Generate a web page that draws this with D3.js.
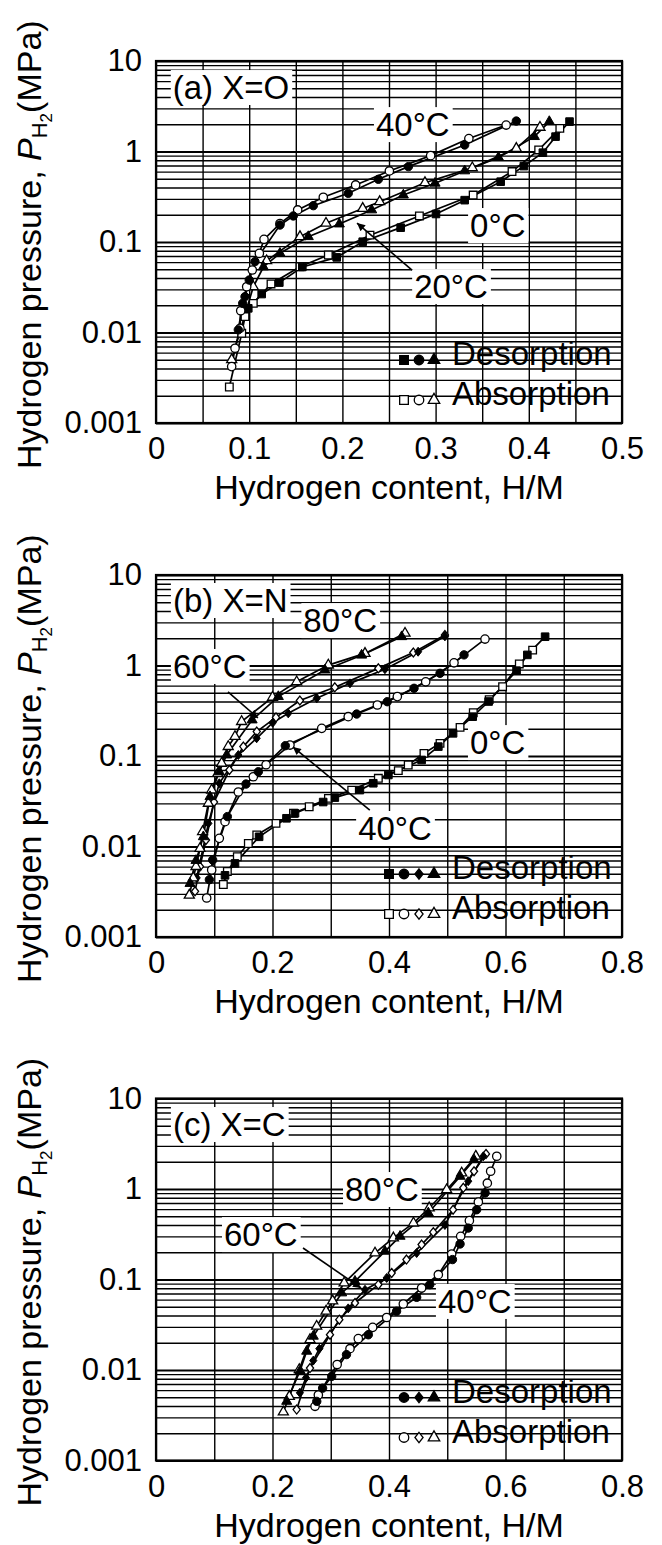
<!DOCTYPE html>
<html>
<head>
<meta charset="utf-8">
<script src="https://cdn.jsdelivr.net/npm/d3@7"></script>
<style>
  body { margin: 0; background: #fff; }
  svg text { font-family: "Liberation Sans", Arial, Helvetica, sans-serif; fill: #000; white-space: pre; }
</style>
</head>
<body>
<svg id="chart" width="662" height="1545"></svg>
<script>
// PCT isotherms, three panels (X = O, N, C). Points are [H/M, pressure MPa].

// ---- tick labels
const xTickLabelsA = ["0", "0.1", "0.2", "0.3", "0.4", "0.5"];
const xTickLabelsBC = ["0", "0.2", "0.4", "0.6", "0.8"];
const yTickLabels = ["0.001", "0.01", "0.1", "1", "10"];

// ---- (a) X=O
const a0Des = [[0.099,0.0185],[0.1134,0.0266],[0.1323,0.0356],[0.157,0.053],[0.1939,0.0676],[0.2218,0.1007],[0.2625,0.144],[0.3004,0.204],[0.3312,0.29],[0.3698,0.464],[0.3947,0.69],[0.4151,0.97],[0.4287,1.46],[0.4437,2.14]];
const a0Abs = [[0.0787,0.0025],[0.092,0.0098],[0.0955,0.015],[0.1044,0.021],[0.1234,0.0344],[0.1545,0.0533],[0.1849,0.0718],[0.2296,0.119],[0.2826,0.194],[0.3403,0.33],[0.382,0.60],[0.4106,1.04],[0.4333,1.80]];
const a20Des = [[0.1152,0.053],[0.133,0.075],[0.1634,0.1145],[0.1967,0.158],[0.2314,0.226],[0.2654,0.33],[0.2994,0.446],[0.3312,0.61],[0.3675,0.86],[0.406,1.46],[0.422,2.14]];
const a20Abs = [[0.0812,0.005],[0.1044,0.032],[0.1187,0.062],[0.1545,0.1145],[0.1824,0.161],[0.2218,0.235],[0.240,0.279],[0.2886,0.452],[0.3394,0.66],[0.3866,1.08],[0.412,1.85]];
const a40Des = [[0.0883,0.0107],[0.093,0.021],[0.0955,0.0249],[0.100,0.038],[0.1062,0.0607],[0.133,0.154],[0.1473,0.194],[0.1688,0.252],[0.2063,0.345],[0.2386,0.493],[0.2708,0.68],[0.3312,1.18],[0.3866,2.17]];
const a40Abs = [[0.0812,0.0042],[0.0848,0.0067],[0.0901,0.0111],[0.0909,0.0174],[0.0973,0.032],[0.1033,0.049],[0.1109,0.075],[0.1159,0.107],[0.133,0.16],[0.152,0.226],[0.1795,0.312],[0.2142,0.427],[0.2504,0.61],[0.2947,0.90],[0.3357,1.39],[0.3757,1.96]];

// ---- (b) X=N
const b0Des = [[0.1185,0.0048],[0.1356,0.0065],[0.177,0.0128],[0.224,0.0205],[0.2386,0.0233],[0.287,0.031],[0.307,0.0347],[0.350,0.042],[0.373,0.05],[0.3989,0.0617],[0.456,0.0904],[0.4847,0.127],[0.510,0.178],[0.5437,0.272],[0.571,0.40],[0.619,0.877],[0.6375,1.31],[0.668,2.08]];
const b0Abs = [[0.1156,0.0038],[0.1225,0.0053],[0.1396,0.0077],[0.1585,0.0108],[0.173,0.0134],[0.206,0.018],[0.236,0.0233],[0.263,0.0275],[0.296,0.034],[0.336,0.042],[0.3817,0.0567],[0.416,0.0689],[0.433,0.0796],[0.460,0.107],[0.4876,0.138],[0.522,0.207],[0.5447,0.301],[0.572,0.42],[0.595,0.583],[0.6237,1.04],[0.6466,1.48]];
const b40Des = [[0.0916,0.0043],[0.0973,0.0071],[0.1225,0.0214],[0.1545,0.049],[0.1757,0.067],[0.222,0.13],[0.3445,0.291],[0.397,0.398],[0.443,0.56],[0.4876,0.82],[0.5288,1.31]];
const b40Abs = [[0.087,0.0027],[0.0956,0.0055],[0.1087,0.0123],[0.1185,0.0188],[0.1413,0.040],[0.167,0.059],[0.189,0.080],[0.230,0.132],[0.2845,0.202],[0.330,0.272],[0.380,0.366],[0.4143,0.453],[0.463,0.66],[0.5116,1.07],[0.5648,1.96]];
const b60Des = [[0.0698,0.0045],[0.0899,0.018],[0.1087,0.050],[0.1413,0.1025],[0.1728,0.157],[0.2003,0.233],[0.227,0.296],[0.276,0.434],[0.333,0.635],[0.393,0.91],[0.450,1.42],[0.496,2.1]];
const b60Abs = [[0.067,0.0032],[0.0755,0.006],[0.0858,0.0118],[0.0996,0.031],[0.126,0.070],[0.150,0.127],[0.173,0.186],[0.206,0.267],[0.247,0.41],[0.307,0.574],[0.3817,0.93],[0.4418,1.39],[0.496,2.17]];
const b80Des = [[0.0584,0.0039],[0.0687,0.007],[0.0813,0.0128],[0.0927,0.0355],[0.1087,0.067],[0.1213,0.1025],[0.165,0.25],[0.21,0.453],[0.290,0.89],[0.353,1.30],[0.4218,2.08]];
const b80Abs = [[0.0572,0.0029],[0.064,0.0045],[0.0687,0.006],[0.0755,0.0095],[0.080,0.0146],[0.0899,0.030],[0.0956,0.042],[0.106,0.064],[0.1127,0.083],[0.124,0.127],[0.1356,0.164],[0.147,0.24],[0.200,0.445],[0.2415,0.66],[0.2958,1.01],[0.3588,1.36],[0.4275,2.27]];

// ---- (c) X=C
const c40Des = [[0.276,0.0045],[0.286,0.0063],[0.3016,0.0085],[0.327,0.0148],[0.3645,0.0245],[0.413,0.0446],[0.4475,0.0635],[0.470,0.0877],[0.509,0.166],[0.522,0.247],[0.536,0.37],[0.5505,0.59],[0.565,0.904]];
const c40Abs = [[0.273,0.00397],[0.2787,0.0053],[0.311,0.0115],[0.333,0.0172],[0.3473,0.0222],[0.372,0.0296],[0.396,0.038],[0.4246,0.0536],[0.456,0.0805],[0.4847,0.113],[0.5076,0.191],[0.523,0.30],[0.538,0.447],[0.5534,0.718],[0.5688,1.16],[0.5745,1.57],[0.585,2.3]];
const c60Des = [[0.247,0.0056],[0.2575,0.0082],[0.270,0.0127],[0.2804,0.0172],[0.330,0.048],[0.3588,0.077],[0.396,0.104],[0.4475,0.196],[0.496,0.40],[0.536,1.22],[0.562,2.3]];
const c60Abs = [[0.2415,0.00365],[0.2644,0.0105],[0.2987,0.0245],[0.3147,0.036],[0.3416,0.055],[0.3817,0.0877],[0.4046,0.118],[0.430,0.166],[0.456,0.243],[0.476,0.333],[0.510,0.59],[0.5276,1.03],[0.546,1.57],[0.5665,2.44]];
const c80Des = [[0.2244,0.0045],[0.247,0.0097],[0.2587,0.0161],[0.270,0.0236],[0.3187,0.071],[0.3416,0.0955],[0.393,0.205],[0.419,0.30],[0.4675,0.543],[0.522,1.38],[0.546,2.1]];
const c80Abs = [[0.2186,0.00343],[0.2289,0.0051],[0.246,0.0101],[0.2644,0.0216],[0.2758,0.0304],[0.292,0.0446],[0.3033,0.058],[0.323,0.0914],[0.376,0.196],[0.4075,0.288],[0.442,0.42],[0.469,0.617],[0.499,0.98],[0.5248,1.5],[0.549,2.3]];

// ---- annotations: [text, x, p] at text start / baseline; arrows [x0,p0,x1,p1]
const labelsA = [["(a) X=O", 0.018, 3.8], ["40°C", 0.236, 1.48], ["0°C", 0.337, 0.1135], ["20°C", 0.277, 0.024]];
const arrowsA = [[0.2747, 0.049, 0.2157, 0.162]];
const labelsB = [["(b) X=N", 0.029, 3.9], ["80°C", 0.253, 2.34], ["60°C", 0.029, 0.728], ["0°C", 0.539, 0.105], ["40°C", 0.347, 0.0118]];
const arrowsB = [[0.1236, 0.51, 0.175, 0.263], [0.367, 0.0253, 0.235, 0.126]];
const labelsC = [["(c) X=C", 0.029, 3.85], ["80°C", 0.3245, 0.736], ["60°C", 0.1167, 0.234], ["40°C", 0.484, 0.0427]];
const arrowsC = [[0.2524, 0.223, 0.352, 0.0805]];

// ---- layout
const FONT = '"Liberation Sans", Arial, Helvetica, sans-serif';
const plotLeft = 156, plotWidth = 466, plotHeight = 362;

const diamond = {
    draw(ctx, size) {
        const h = Math.sqrt(size) * 0.62, w = h * 0.8;
        ctx.moveTo(0, -h); ctx.lineTo(w, 0); ctx.lineTo(0, h); ctx.lineTo(-w, 0); ctx.closePath();
    }
};
const shapes = {
    square: { type: d3.symbolSquare, size: 58 },
    circle: { type: d3.symbolCircle, size: 55 },
    diamond: { type: diamond, size: 52 },
    triangle: { type: d3.symbolTriangle, size: 44 }
};

const panels = [
    { top: 61, xMax: 0.5, gridN: 10, xLabels: xTickLabelsA, labels: labelsA, arrows: arrowsA,
      series: [{ shape: "square", des: a0Des, abs: a0Abs }, { shape: "triangle", des: a20Des, abs: a20Abs }, { shape: "circle", des: a40Des, abs: a40Abs }],
      legend: ["square", "circle", "triangle"] },
    { top: 575, xMax: 0.8, gridN: 8, xLabels: xTickLabelsBC, labels: labelsB, arrows: arrowsB,
      series: [{ shape: "square", des: b0Des, abs: b0Abs }, { shape: "circle", des: b40Des, abs: b40Abs }, { shape: "diamond", des: b60Des, abs: b60Abs }, { shape: "triangle", des: b80Des, abs: b80Abs }],
      legend: ["square", "circle", "diamond", "triangle"] },
    { top: 1098.5, xMax: 0.8, gridN: 8, xLabels: xTickLabelsBC, labels: labelsC, arrows: arrowsC,
      series: [{ shape: "circle", des: c40Des, abs: c40Abs }, { shape: "diamond", des: c60Des, abs: c60Abs }, { shape: "triangle", des: c80Des, abs: c80Abs }],
      legend: ["circle", "diamond", "triangle"] }
];

const svg = d3.select("#chart");

svg.append("defs").append("marker")
    .attr("id", "head")
    .attr("viewBox", "0 0 10 10")
    .attr("refX", 10).attr("refY", 5)
    .attr("markerUnits", "userSpaceOnUse")
    .attr("markerWidth", 15).attr("markerHeight", 8)
    .attr("orient", "auto")
    .append("path").attr("d", "M0,0L10,5L0,10Z").attr("fill", "#000");

// log grid values 0.001 .. 10
const yGrid = [];
for (let k = -3; k <= 0; k++) for (let m = 1; m <= 9; m++) yGrid.push(+(m * Math.pow(10, k)).toPrecision(3));
yGrid.push(10);
const isDecade = v => Math.abs(Math.log10(v) - Math.round(Math.log10(v))) < 1e-9;

panels.forEach(panel => {
    const x = d3.scaleLinear().domain([0, panel.xMax]).range([0, plotWidth]);
    const y = d3.scaleLog().domain([0.001, 10]).range([plotHeight, 0]);
    const g = svg.append("g").attr("transform", `translate(${plotLeft},${panel.top})`);

    // vertical grid + x tick labels
    const xGrid = d3.range(panel.gridN + 1).map(i => i * panel.xMax / panel.gridN);
    const perLabel = panel.gridN / (panel.xLabels.length - 1);
    g.append("g")
        .attr("transform", `translate(0,${plotHeight})`)
        .call(d3.axisBottom(x).tickValues(xGrid).tickSize(-plotHeight).tickPadding(14)
            .tickFormat((d, i) => i % perLabel === 0 ? panel.xLabels[i / perLabel] : ""))
        .call(ax => {
            ax.select(".domain").remove();
            ax.attr("font-size", 31).attr("font-family", FONT);
            ax.selectAll(".tick line").attr("stroke", "#000").attr("stroke-width", 1.4);
        });

    // horizontal log grid + y tick labels
    g.append("g")
        .call(d3.axisLeft(y).tickValues(yGrid).tickSize(-plotWidth).tickPadding(14)
            .tickFormat(v => isDecade(v) ? yTickLabels[Math.round(Math.log10(v)) + 3] : ""))
        .call(ax => {
            ax.select(".domain").remove();
            ax.attr("font-size", 31).attr("font-family", FONT);
            ax.selectAll(".tick line").attr("stroke", "#000")
                .attr("stroke-width", v => isDecade(v) ? 2 : 1.3);
        });

    // frame
    g.append("rect").attr("width", plotWidth).attr("height", plotHeight)
        .attr("fill", "none").attr("stroke", "#000").attr("stroke-width", 2.2);

    // annotation labels with white boxes
    panel.labels.forEach(([txt, lx, lp]) => {
        const lg = g.append("g");
        const t = lg.append("text")
            .attr("x", x(lx)).attr("y", y(lp))
            .attr("font-size", 33)
            .text(txt);
        const bb = t.node().getBBox();
        lg.insert("rect", "text")
            .attr("x", bb.x - 2).attr("y", bb.y + 1)
            .attr("width", bb.width + 5).attr("height", bb.height - 2)
            .attr("fill", "#fff");
    });

    // isotherm lines
    const line = d3.line().x(d => x(d[0])).y(d => y(d[1]));
    panel.series.forEach(s => {
        [s.abs, s.des].forEach(pts => {
            g.append("path")
                .datum(pts.slice().sort((p, q) => p[1] - q[1]))
                .attr("d", line)
                .attr("fill", "none").attr("stroke", "#000").attr("stroke-width", 1.7);
        });
    });

    // markers: absorption open, desorption filled
    panel.series.forEach(s => {
        const sym = d3.symbol().type(shapes[s.shape].type).size(shapes[s.shape].size);
        g.append("g").selectAll("path").data(s.abs).join("path")
            .attr("transform", d => `translate(${x(d[0])},${y(d[1])})`)
            .attr("d", sym).attr("fill", "#fff").attr("stroke", "#000").attr("stroke-width", 1.3);
        g.append("g").selectAll("path").data(s.des).join("path")
            .attr("transform", d => `translate(${x(d[0])},${y(d[1])})`)
            .attr("d", sym).attr("fill", "#000").attr("stroke", "#000").attr("stroke-width", 1);
    });

    // arrows
    panel.arrows.forEach(([x0, p0, x1, p1]) => {
        g.append("line")
            .attr("x1", x(x0)).attr("y1", y(p0)).attr("x2", x(x1)).attr("y2", y(p1))
            .attr("stroke", "#000").attr("stroke-width", 1.6)
            .attr("marker-end", "url(#head)");
    });

    // legend
    const rows = [["Desorption", "#000", plotHeight - 58, plotHeight - 63], ["Absorption", "#fff", plotHeight - 18, plotHeight - 23]];
    rows.forEach(([name, fill, base, my]) => {
        const n = panel.legend.length;
        panel.legend.forEach((shp, i) => {
            g.append("path")
                .attr("transform", `translate(${278 - 15 * (n - 1 - i)},${my})`)
                .attr("d", d3.symbol().type(shapes[shp].type).size(shapes[shp].size * 1.3))
                .attr("fill", fill).attr("stroke", "#000").attr("stroke-width", 1.3);
        });
        g.append("text").attr("x", 296).attr("y", base).attr("font-size", 33).text(name);
    });

    // axis titles
    g.append("text")
        .attr("x", plotWidth / 2).attr("y", plotHeight + 76)
        .attr("text-anchor", "middle").attr("font-size", 34)
        .text("Hydrogen content, H/M");

    const yt = g.append("text")
        .attr("transform", `translate(${41 - plotLeft},${plotHeight + 46}) rotate(-90)`)
        .attr("font-size", 34);
    yt.append("tspan").text("Hydrogen pressure, ");
    yt.append("tspan").attr("font-style", "italic").text("P");
    yt.append("tspan").attr("font-size", 22).attr("dy", 6).text("H");
    yt.append("tspan").attr("font-size", 17).attr("dy", 5).text("2");
    yt.append("tspan").attr("dy", -11).text("(MPa)");
});
</script>
</body>
</html>
